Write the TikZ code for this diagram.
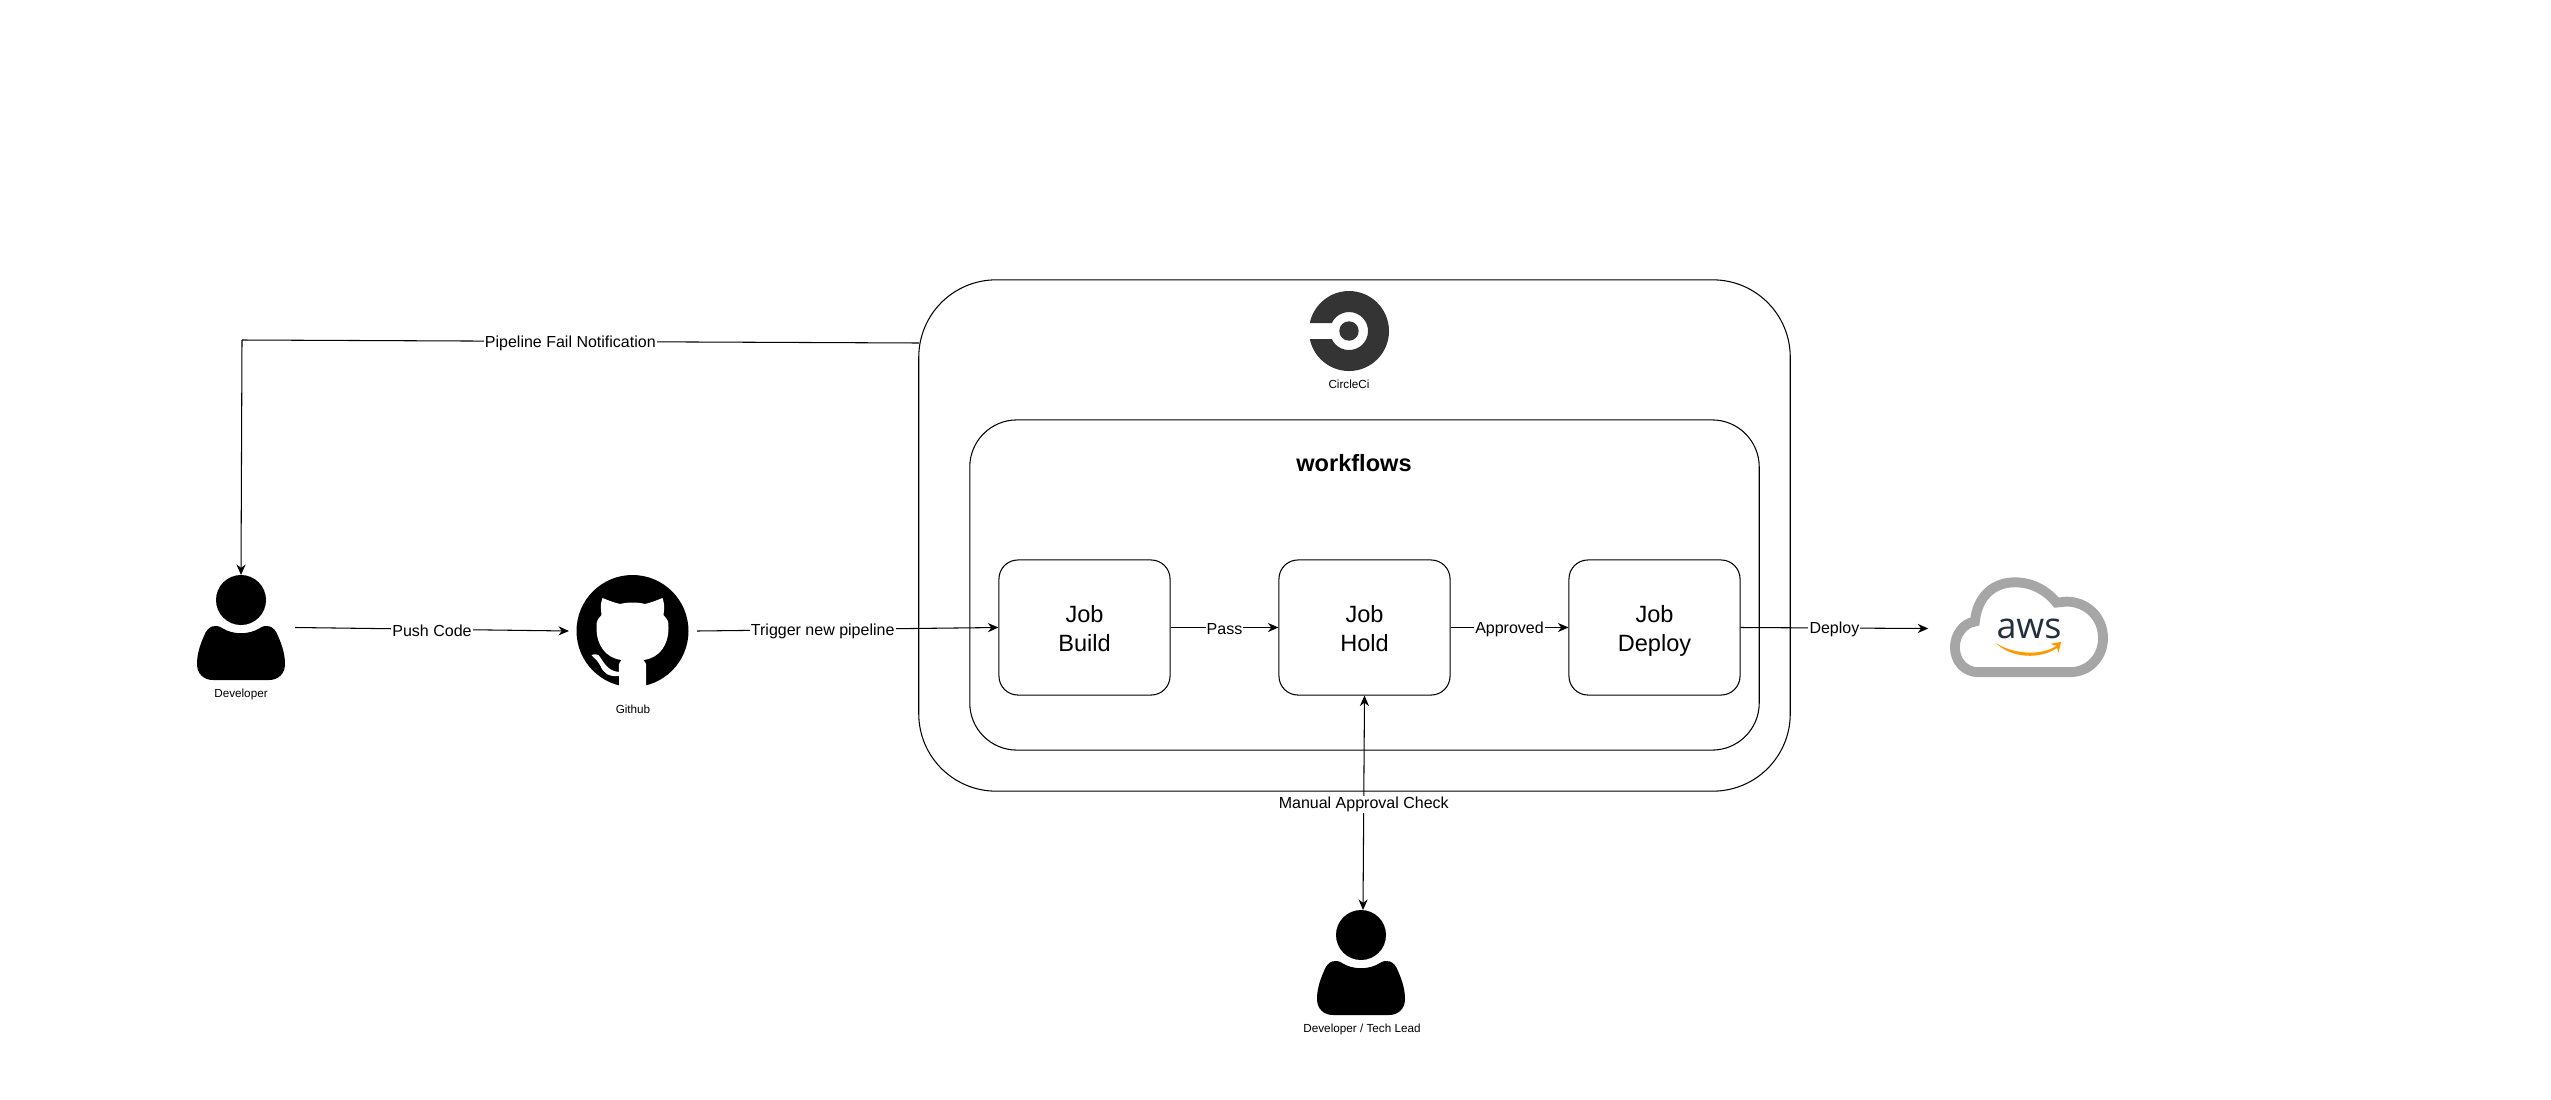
\documentclass[tikz,border=0pt]{standalone}
\usepackage{fontspec}
\setmainfont{Liberation Sans}
\newfontfamily\logofont{Open Sans}
\usetikzlibrary{arrows.meta,positioning}
\definecolor{ink}{HTML}{000000}
\definecolor{cci}{HTML}{343434}
\definecolor{cgrey}{HTML}{A6A6A6}
\definecolor{cnavy}{HTML}{232F3E}
\definecolor{camber}{HTML}{FF9900}
\newcommand{\persongly}[2]{%
  \begin{scope}[shift={(#1,#2)}]
    \fill[ink] (0,0) circle[radius=25];
    \fill[ink] (-19,28) .. controls (-8,35) and (8,35) .. (19,28)
      .. controls (25,24) and (33,25) .. (37,36)
      .. controls (42,47) and (44,56) .. (44,64)
      .. controls (44,74) and (37,80) .. (28,80) -- (-28,80)
      .. controls (-37,80) and (-44,74) .. (-44,64)
      .. controls (-44,56) and (-42,47) .. (-37,36)
      .. controls (-33,25) and (-25,24) .. (-19,28) -- cycle;
  \end{scope}}
\newcommand{\jobtxt}[1]{\rule{0pt}{5.4pt}Job\\\smash{#1}}
\tikzset{
  every node/.style={text=ink},
  panel/.style={draw=ink, line width=0.3pt, align=center, fill=white},
  jobbox/.style={panel, rounded corners=5.4pt, minimum width=1.71cm, minimum height=1.35cm, font=\fontsize{6.7}{8.2}\selectfont},
  iconbox/.style={inner sep=0pt, outer sep=0pt, minimum height=1.05cm},
  lbl/.style={fill=white, inner sep=0.3pt, yshift=-0.4pt, font=\fontsize{4.55}{5.4}\selectfont},
  caption/.style={inner sep=0pt, font=\fontsize{3.33}{4}\selectfont},
  arr/.style={-{Stealth[length=3pt,width=2.6pt]}, line width=0.3pt, color=ink},
  darr/.style={{Stealth[length=3pt,width=2.6pt]}-{Stealth[length=3pt,width=2.6pt]}, line width=0.3pt, color=ink},
}
\begin{document}
\begin{tikzpicture}[x=0.01cm,y=-0.01cm]
  \useasboundingbox (0,0) rectangle (2551,1100);
  % ---- containers ----
  \node[panel, rounded corners=22pt, minimum width=8.71cm, minimum height=5.11cm] (circleci) at (1354.5,535.5) {};
  \node[panel, rounded corners=13.4pt, minimum width=7.89cm, minimum height=3.30cm] (workflows) at (1364.5,585) {};
  \node[inner sep=0pt, font=\fontsize{6.7}{8}\selectfont\bfseries] (wftitle) at (1354,463) {workflows};

  % circleci logo
  \fill[cci] (1309.8,339) arc[start angle=168.5, end angle=-168.5, radius=40]
     -- (1331.8,323) arc[start angle=-155, end angle=155, radius=19] -- cycle;
  \fill[cci] (1349,331) circle[radius=9.7];
  \node[caption] (cilabel) at (1349,384) {CircleCi};

  % ---- jobs ----
  \node[jobbox] (build)  at (1084.5,627.5) {\jobtxt{Build}};
  \node[jobbox] (hold)   at (1364.5,627.5) {\jobtxt{Hold}};
  \node[jobbox] (deploy) at (1654.5,627.5) {\jobtxt{Deploy}};

  % ---- people and github ----
  \persongly{241}{600}
  \persongly{1361}{935}
  \node[iconbox, minimum width=1.08cm] (dev)  at (241,627.5) {};
  \node[iconbox, minimum width=1.08cm] (lead) at (1363,962.5) {};
  \node[caption] (devlabel)  at (241,694) {Developer};
  \node[caption] (leadlabel) at (1362,1029) {Developer / Tech Lead};

  \fill[ink] (632.5,631) circle[radius=56];
  \begin{scope}[shift={(632.5,631)}]
    \fill[white] (-12.5,-27) .. controls (-20,-29) .. (-30,-33) .. controls (-32,-26) .. (-31,-16)
      .. controls (-36,-10) .. (-36,-3) .. controls (-36,14) and (-27,27) .. (-11,29)
      .. controls (-14,33) .. (-13.5,41) -- (-13.5,57) -- (13.5,57) -- (13.5,41) .. controls (14,33) .. (11,29)
      .. controls (27,27) and (36,14) .. (36,-3) .. controls (36,-10) .. (31,-16)
      .. controls (32,-26) .. (30,-33) .. controls (20,-29) .. (12.5,-27)
      .. controls (5,-29) and (-5,-29) .. (-12.5,-27) -- cycle;
    \fill[white] (-41,24) .. controls (-37,23) .. (-34,24) .. controls (-29,30) and (-26,40) .. (-13.5,41)
      -- (-13.5,45) .. controls (-24,46) and (-29,42) .. (-32,35) .. controls (-35,30) .. (-41,24) -- cycle;
  \end{scope}
  \node[iconbox, minimum width=1.28cm] (github) at (633,631) {};
  \node[caption] (gitlabel) at (633,709) {Github};

  % ---- aws cloud ----
  \begin{scope}[shift={(1900,560)},x=0.00333cm,y=-0.00333cm]
    \draw[cgrey, line width=2.8pt] (235,337) -- (510,337)
      .. controls (570,337) and (610,290) .. (610,235)
      .. controls (610,170) and (560,125) .. (500,125) -- (470,128)
      .. controls (440,90) and (395,67) .. (345,67)
      .. controls (280,67) and (232,110) .. (225,185)
      .. controls (190,190) and (165,225) .. (165,262)
      .. controls (165,305) and (195,337) .. (235,337) -- cycle;
    \fill[camber] (288,250) .. controls (340,282) and (420,290) .. (470,258)
      -- (452,252) -- (484,246) -- (476,280) -- (472,264)
      .. controls (420,300) and (335,295) .. (288,250) -- cycle;
  \end{scope}
  \node[inner sep=0pt, minimum width=2cm, text=cnavy, font=\fontsize{10.2}{12}\logofont] (aws) at (2029,628.5) {aws};

  % ---- connectors ----
  \coordinate (failout) at (919,343);
  \coordinate (failturn) at (242,340);
  \draw[line width=0.3pt, ink] (failout) -- node[lbl, pos=0.515] (faillabel) {Pipeline Fail Notification} (failturn);
  \draw[arr] (failturn) -- (dev.north);
  \draw[arr] (dev.east) -- node[lbl] (pushlabel) {Push Code} (github.west);
  \draw[arr] (github.east) -- node[lbl, pos=0.417] (triglabel) {Trigger new pipeline} (build.west);
  \draw[arr] (build) -- node[lbl] (passlabel) {Pass} (hold);
  \draw[arr] (hold) -- node[lbl] (applabel) {Approved} (deploy);
  \draw[arr] (deploy.east) -- node[lbl] (deplabel) {Deploy} (aws.west);
  \draw[darr] (hold.south) -- node[lbl] (manlabel) {Manual Approval Check} (lead.north);
\end{tikzpicture}
\end{document}
